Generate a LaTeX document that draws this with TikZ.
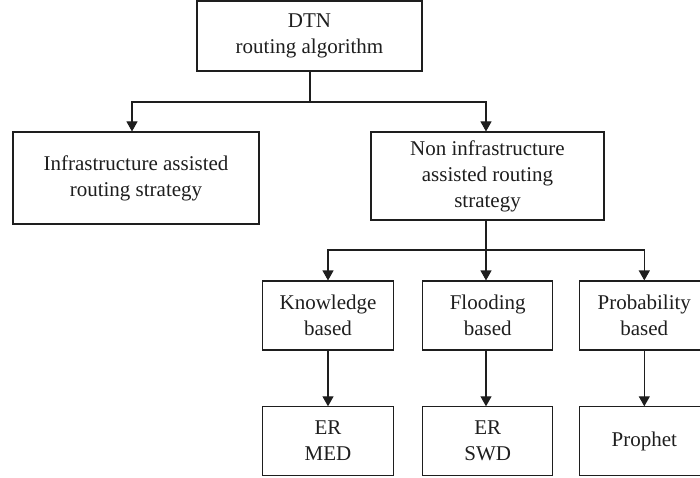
\documentclass[tikz,border=0pt]{standalone}
\usepackage{fontspec}
\setmainfont{Liberation Serif}
\usetikzlibrary{arrows.meta}
\definecolor{ink}{HTML}{1E1E1E}
\tikzset{
  box/.style={draw=ink, line width=1.1pt, rectangle, inner sep=0pt, align=center,
    text=ink, font=\fontsize{21}{26}\selectfont},
  link/.style={draw=ink, line width=1.1pt, -{Triangle[width=11pt,length=10pt]}},
  plain/.style={draw=ink, line width=1.1pt},
}
\begin{document}
\begin{tikzpicture}[x=1pt, y=-1pt]
\useasboundingbox (0,0) rectangle (700,478);

% first level
\node[box, minimum width=225pt, minimum height=70pt] (root) at (309.5,36) {DTN\\routing algorithm};

% second level
\node[box, minimum width=246pt, minimum height=92pt] (infra) at (136,178) {Infrastructure assisted\\routing strategy};
\node[box, minimum width=233pt, minimum height=88pt] (noninfra) at (487.5,176) {Non infrastructure\\assisted routing\\strategy};

% third level
\node[box, minimum width=130.6pt, minimum height=69pt] (know) at (328,315.5) {Knowledge\\based};
\node[box, minimum width=130pt, minimum height=69pt] (flood) at (487.7,315.5) {Flooding\\based};
\node[box, minimum width=130pt, minimum height=69pt] (prob) at (644.3,315.5) {Probability\\based};

% fourth level
\node[box, minimum width=130.6pt, minimum height=68.3pt] (med) at (328,441) {ER\\MED};
\node[box, minimum width=130pt, minimum height=68.3pt] (swd) at (487.7,441) {ER\\SWD};
\node[box, minimum width=130pt, minimum height=68.3pt] (prophet) at (644.3,441) {Prophet};

% split points
\coordinate (s1) at (310,102);
\coordinate (s2) at (486,250);

% connectors from the root
\draw[plain] (root.south -| s1) -- (s1);
\draw[link] (s1) -| ([xshift=-4pt]infra.north);
\draw[link] (s1) -| (noninfra.north -| s2);

% connectors from the non-infrastructure branch
\draw[plain] (noninfra.south -| s2) -- (s2);
\draw[link] (s2) -| (know.north);
\draw[link] (s2) -- (flood.north -| s2);
\draw[link] (s2) -| (prob.north);

% leaves
\draw[link] (know.south) -- (med.north);
\draw[link] (flood.south -| s2) -- (swd.north -| s2);
\draw[link] (prob.south) -- (prophet.north);
\end{tikzpicture}
\end{document}
